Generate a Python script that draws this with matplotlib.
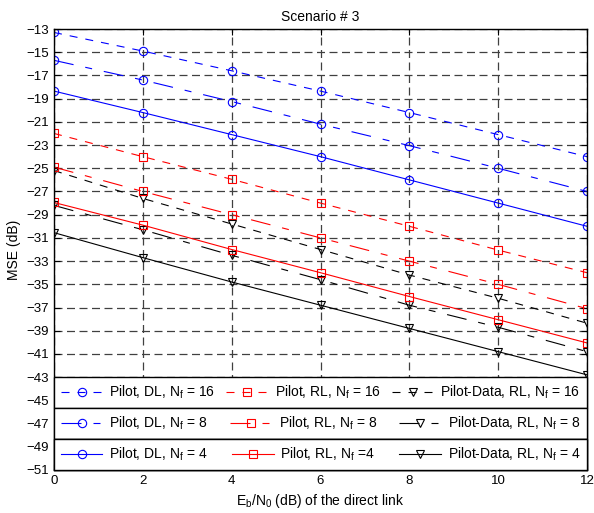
import numpy as np
import matplotlib
matplotlib.use('Agg')
import matplotlib.pyplot as plt

plt.rcParams['font.family'] = ['Liberation Sans', 'DejaVu Sans']
plt.rcParams['mathtext.default'] = 'regular'

# 数据
ebn0 = [0, 2, 4, 6, 8, 10, 12]

dl_16 = [-13.3, -14.9, -16.6, -18.35, -20.2, -22.1, -24.0]
dl_8 = [-15.7, -17.4, -19.25, -21.2, -23.05, -25.0, -27.0]
dl_4 = [-18.35, -20.2, -22.1, -24.0, -26.0, -28.0, -30.0]

rl_16 = [-22.0, -24.0, -25.95, -28.0, -30.0, -32.05, -34.0]
rl_8 = [-24.9, -27.0, -29.0, -31.0, -33.0, -35.0, -37.1]
rl_4 = [-27.95, -29.9, -32.0, -34.0, -36.05, -38.05, -40.05]

pd_16 = [-25.2, -27.6, -29.8, -32.0, -34.2, -36.2, -38.35]
pd_8 = [-28.2, -30.3, -32.5, -34.6, -36.8, -38.7, -40.8]
pd_4 = [-30.55, -32.7, -34.8, -36.8, -38.8, -40.8, -42.8]

labels_16 = [r'Pilot, DL, N$_f$ = 16', r'Pilot, RL, N$_f$ = 16', r'Pilot-Data, RL, N$_f$ = 16']
labels_8 = [r'Pilot, DL, N$_f$ = 8', r'Pilot, RL, N$_f$ = 8', r'Pilot-Data, RL, N$_f$ = 8']
labels_4 = [r'Pilot, DL, N$_f$ = 4', r'Pilot, RL, N$_f$ =4', r'Pilot-Data, RL, N$_f$ = 4']

# 线型: Nf=16 虚线, Nf=8 点划线(点画成短线), Nf=4 实线
dashed = (0, (7.2, 7.2))
dashdot = (0, (18, 10.8, 6.3, 10.8))

fig = plt.figure(figsize=(5.94, 5.13), dpi=100)
ax = fig.add_axes([54 / 594, 43 / 513, 533 / 594, 441 / 513])

kw = dict(lw=0.8, ms=6, mfc='none', mew=0.8)

h16 = [ax.plot(ebn0, dl_16, color='blue', ls=dashed, marker='o', **kw)[0],
       ax.plot(ebn0, rl_16, color='red', ls=dashed, marker='s', **kw)[0],
       ax.plot(ebn0, pd_16, color='black', ls=dashed, marker='v', **kw)[0]]
h8 = [ax.plot(ebn0, dl_8, color='blue', ls=dashdot, marker='o', **kw)[0],
      ax.plot(ebn0, rl_8, color='red', ls=dashdot, marker='s', **kw)[0],
      ax.plot(ebn0, pd_8, color='black', ls=dashdot, marker='v', **kw)[0]]
h4 = [ax.plot(ebn0, dl_4, color='blue', ls='-', marker='o', **kw)[0],
      ax.plot(ebn0, rl_4, color='red', ls='-', marker='s', **kw)[0],
      ax.plot(ebn0, pd_4, color='black', ls='-', marker='v', **kw)[0]]

ax.set_xlim(0, 12)
ax.set_ylim(-51, -13)
ax.set_xticks(np.arange(0, 13, 2))
ax.set_yticks(np.arange(-51, -12, 2))
ax.tick_params(direction='in', top=True, right=True, labelsize=9.5, length=4)
ax.grid(True, color='0.25', ls=(0, (6.4, 3.6)), lw=0.9)
for s in ax.spines.values():
    s.set_linewidth(1.0)

ax.set_title('Scenario # 3', fontsize=10)
ax.set_xlabel(r'E$_b$/N$_0$ (dB) of the direct link', fontsize=10)
ax.set_ylabel('MSE (dB)', fontsize=10)

# 三个图例, 每行一个
row_h = 31 / 441
for i, hs, ls in [(2, h16, labels_16), (1, h8, labels_8), (0, h4, labels_4)]:
    leg = ax.legend(hs, ls, loc='center', bbox_to_anchor=(0, i * row_h, 1, row_h),
                    mode='expand', ncol=3, borderaxespad=0, fancybox=False,
                    edgecolor='black', framealpha=1, fontsize=10, handlelength=3.0,
                    handletextpad=0.5, columnspacing=0.8, borderpad=0.48)
    leg.get_frame().set_linewidth(1.0)
    leg.set_zorder(5)
    ax.add_artist(leg)

fig.savefig('out.png', dpi=100)
